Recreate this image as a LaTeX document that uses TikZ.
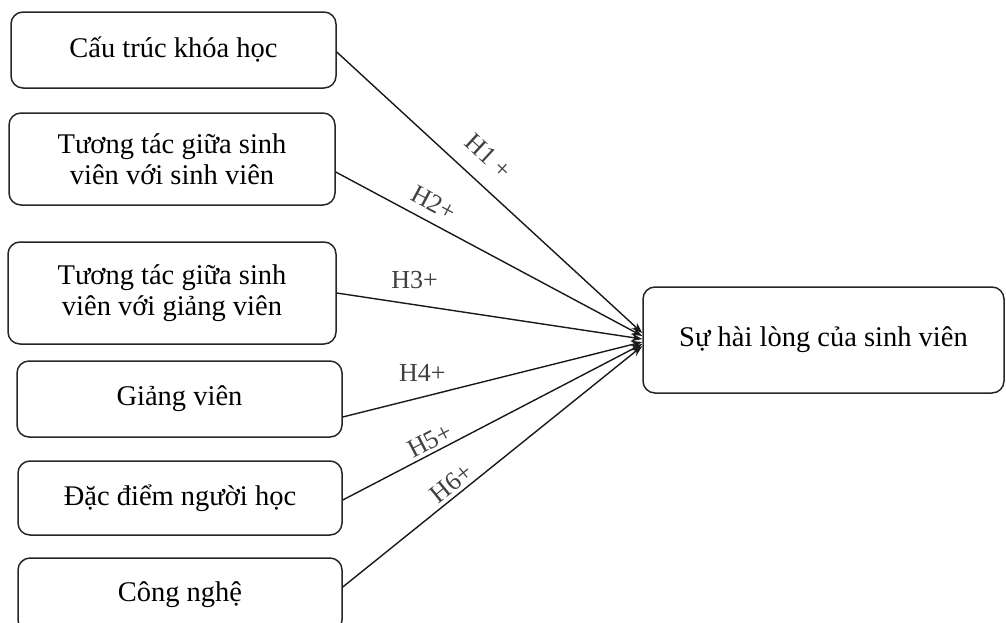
\documentclass[tikz,border=0pt]{standalone}
\usepackage{fontspec}
\setmainfont{Liberation Serif}
\usepackage{tikz}
\usetikzlibrary{arrows.meta, positioning}

\begin{document}
\begin{tikzpicture}[x=1pt, y=-1pt,
  box/.style={rectangle, rounded corners=12pt, draw=black!85, line width=1.5pt, align=center,
    font=\fontsize{28.5}{31}\selectfont, inner sep=0pt},
  arr/.style={draw=black!90, line width=1.4pt, -{Stealth[length=11pt, width=8pt]}},
  lbl/.style={font=\fontsize{26}{28}\selectfont, text=black!75, inner sep=0pt}]
\useasboundingbox (0,0) rectangle (1006,622);
\node[box, minimum width=325pt, minimum height=76pt] (c1) at (173.5,50) {Cấu trúc khóa học};
\node[box, minimum width=326pt, minimum height=92pt] (c2) at (172,159) {Tương tác giữa sinh\\viên với sinh viên};
\node[box, minimum width=328pt, minimum height=102pt] (c3) at (172,293) {Tương tác giữa sinh\\viên với giảng viên};
\node[box, minimum width=325pt, minimum height=76pt] (c4) at (179.5,399) {Giảng viên};
\node[box, minimum width=324pt, minimum height=74pt] (c5) at (180,498) {Đặc điểm người học};
\node[box, minimum width=324pt, minimum height=74pt] (c6) at (180,595) {Công nghệ};
\node[box, minimum width=361pt, minimum height=106pt] (sv) at (823.5,340) {Sự hài lòng của sinh viên};
% cac gia thuyet H1 - H6
\draw[arr] ([yshift=-2pt]c1.east) -- ([yshift=7pt]sv.west) node[lbl, pos=0.44, sloped, above=17pt] {H1 +};
\draw[arr] ([yshift=-13pt]c2.east) -- ([yshift=4pt]sv.west) node[lbl, pos=0.29, sloped, above=10pt] {H2+};
\draw[arr] (c3.east) -- ([yshift=1pt]sv.west) node[lbl, pos=0.255, above=15pt] {H3+};
\draw[arr] ([yshift=-18pt]c4.east) -- ([yshift=-2pt]sv.west) node[lbl, pos=0.266, above=15pt] {H4+};
\draw[arr] ([yshift=-2pt]c5.east) -- ([yshift=-4pt]sv.west) node[lbl, pos=0.31, sloped, above=3pt] {H5+};
\draw[arr] ([yshift=8pt]c6.east) -- ([yshift=-6pt]sv.west) node[lbl, pos=0.39, sloped, above=3pt] {H6+};
\end{tikzpicture}
\end{document}
